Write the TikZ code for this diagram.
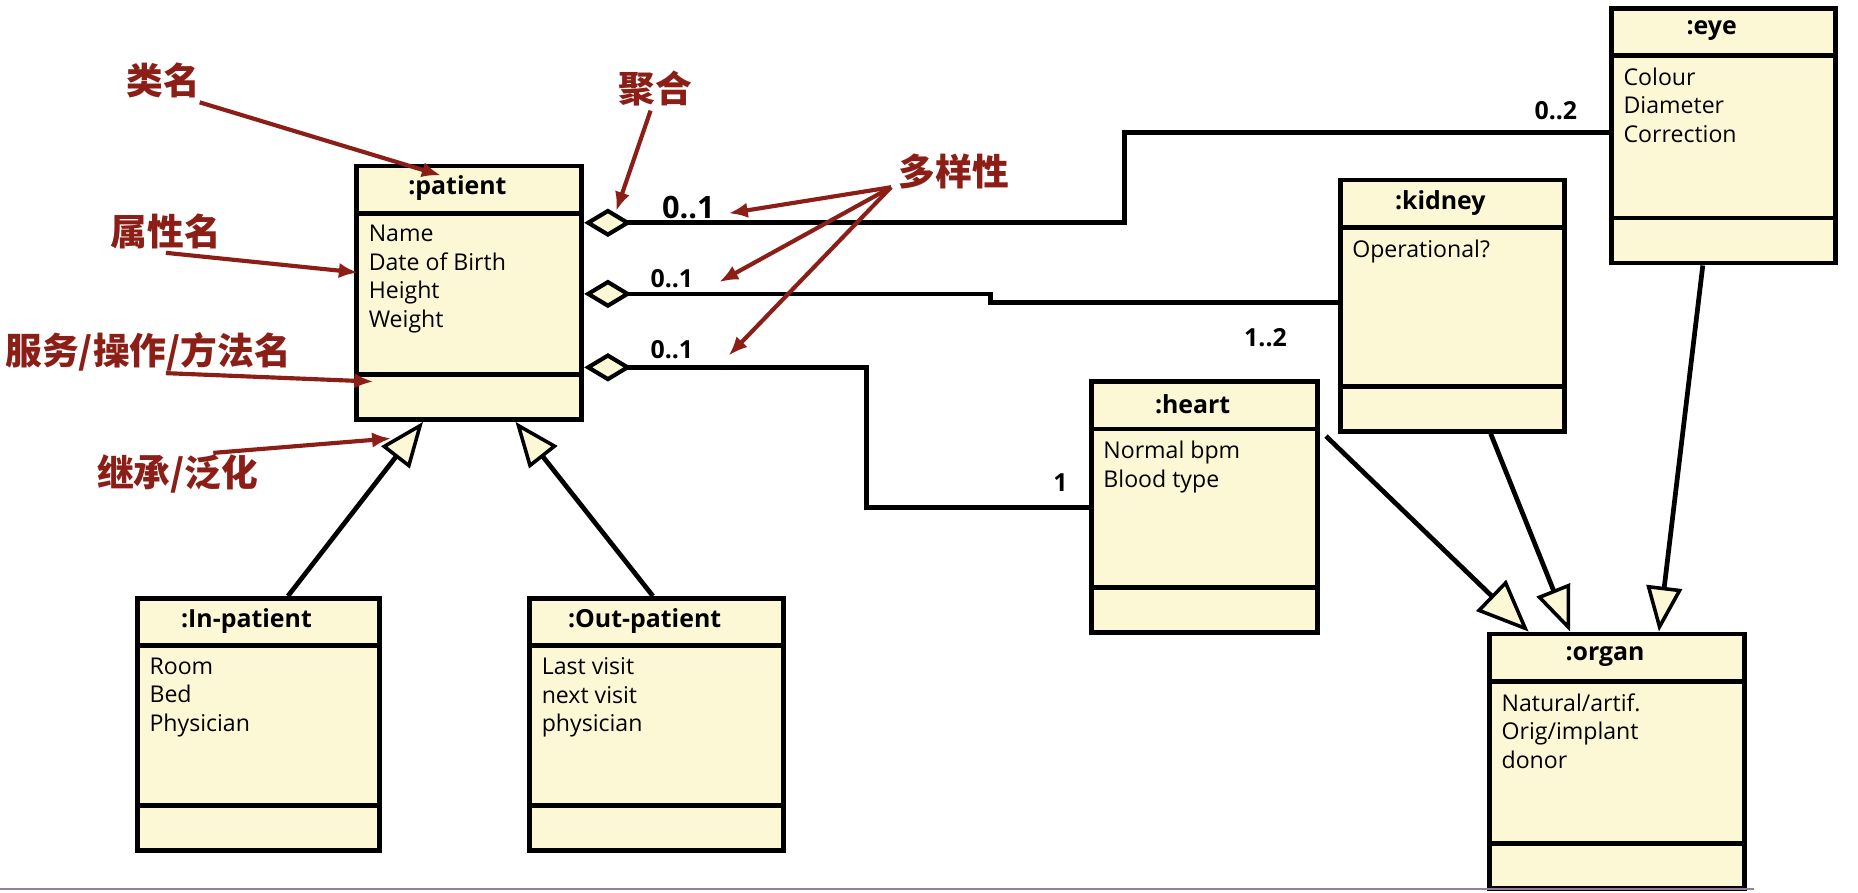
\documentclass[tikz,border=0pt]{standalone}
\usepackage{fontspec}
\setmainfont{Open Sans}
\newfontfamily\cjk{Noto Sans CJK SC}
\usetikzlibrary{arrows.meta,calc,positioning}

\definecolor{classfill}{RGB}{252,248,214}
\definecolor{notered}{RGB}{139,30,22}
\definecolor{slideline}{RGB}{150,125,160}

\tikzset{
  classbox/.style={draw, line width=4pt, fill=classfill, inner sep=0pt, anchor=north west},
  classline/.style={line width=4pt},
  classtitle/.style={font=\fontsize{21}{24}\selectfont\bfseries},
  classattr/.style={font=\fontsize{19.5}{24}\selectfont, align=left, anchor=north west, inner sep=0pt},
  agg/.style={line width=4pt, {Diamond[length=40pt,width=24pt,fill=classfill,line width=3.5pt]}-},
  gen/.style={line width=4pt, -{Triangle[length=38pt,width=30pt,fill=classfill,line width=3pt]}},
  biggen/.style={line width=4pt, -{Triangle[length=44pt,width=36pt,fill=classfill,line width=3pt]}},
  mult/.style={font=\fontsize{21}{24}\selectfont\bfseries},
  note/.style={font=\cjk\bfseries\fontsize{31}{34}\selectfont, text=notered},
  notearrow/.style={notered, line width=3.5pt, -{Latex[length=16pt,width=13pt]}}
}

% class box: name, left, top, width, height, title, attributes
\newcommand{\umlclass}[7]{%
  \node[classbox, minimum width=#4pt, minimum height=#5pt] (#1) at (#2,#3) {};
  \draw[classline] ($(#1.north west)+(0,42)$) -- ($(#1.north east)+(0,42)$);
  \draw[classline] ($(#1.south west)+(0,-40)$) -- ($(#1.south east)+(0,-40)$);
  \node[classtitle] (#1-title) at ($(#1.north)+(-10,21)$) {#6};
  \node[classattr] (#1-attr) at ($(#1.north west)+(12,52)$) {#7};
}

\begin{document}
\begin{tikzpicture}[x=1pt, y=-1pt]
    \useasboundingbox (0,0) rectangle (1568,753);

    % Classes
    \umlclass{patient}{299}{138}{190}{214}{:patient}{Name\\Date of Birth\\Height\\Weight}
    \umlclass{inpatient}{114}{503}{204}{213}{:In-patient}{Room\\Bed\\Physician}
    \umlclass{outpatient}{445}{503}{214}{213}{:Out-patient}{Last visit\\next visit\\physician}
    \umlclass{heart}{919}{320}{191}{212}{:heart}{Normal bpm\\Blood type}
    \umlclass{kidney}{1129}{150}{189}{212}{:kidney}{Operational?}
    \umlclass{eye}{1358}{5}{189}{215}{:eye}{Colour\\Diameter\\Correction}
    \umlclass{organ}{1255}{533}{215}{215}{:organ}{Natural/artif.\\Orig/implant\\donor}

    % Aggregations from patient
    \draw[agg] ($(patient.north east)+(0,50)$) -- ++(456,0) |- ($(eye.north west)+(0,107)$);
    \draw[agg] ($(patient.north east)+(0,110)$) -- ++(343,0) -- ++(0,7) -- ($(kidney.north west)+(0,105)$);
    \draw[agg] ($(patient.north east)+(0,172)$) -- ++(238,0) |- ($(heart.north west)+(0,108)$);

    % Multiplicities
    \node[mult, font=\fontsize{26}{28}\selectfont\bfseries] (m1) at (581,175) {0..1};
    \node[mult] (m2) at (567,235) {0..1};
    \node[mult] (m3) at (567,295) {0..1};
    \node[mult] (m4) at (1313,93) {0..2};
    \node[mult] (m5) at (1068,285) {1..2};
    \node[mult] (m6) at (895,407) {1};

    % Generalizations
    \draw[gen] ($(inpatient.north west)+(129,0)$) -- ($(patient.south west)+(58,0)$);
    \draw[gen] ($(outpatient.north west)+(106,0)$) -- ($(patient.south west)+(136,0)$);
    \draw[biggen] ($(heart.north east)+(5,48)$) -- ($(organ.north west)+(35,0)$);
    \draw[gen] ($(kidney.south west)+(129,0)$) -- ($(organ.north west)+(70,0)$);
    \draw[gen] ($(eye.south west)+(79,0)$) -- ($(organ.north west)+(145,0)$);

    % Notes
    \node[note] (classname) at (138,68) {类名};
    \node[note] (agglabel) at (553,75) {聚合};
    \node[note] (attrname) at (140,195) {属性名};
    \node[note] (multlabel) at (805,145) {多样性};
    \node[note] (opname) at (125,297) {服务/操作/方法名};
    \node[note] (genlabel) at (150,400) {继承/泛化};

    \coordinate (classtip) at (372,148);
    \coordinate (aggtip) at (520,178);
    \coordinate (attrtip) at (302,230);
    \coordinate (multsrc) at (752,158);
    \coordinate (multtipA) at (615,180);
    \coordinate (multtipB) at (607,238);
    \coordinate (multtipC) at (615,300);
    \coordinate (optip) at (315,322);
    \coordinate (gentip) at (330,370);

    \draw[notearrow] ($(classname.south east)+(-4,0)$) -- (classtip);
    \draw[notearrow] ($(agglabel.south)+(-4,0)$) -- (aggtip);
    \draw[notearrow] (attrname.south) -- (attrtip);
    \draw[notearrow] (multsrc) -- (multtipA);
    \draw[notearrow] (multsrc) -- (multtipB);
    \draw[notearrow] (multsrc) -- (multtipC);
    \draw[notearrow] ($(opname.south)+(15,-2)$) -- (optip);
    \draw[notearrow] ($(genlabel.north)+(30,2)$) -- (gentip);

    % slide border
    \draw[slideline, line width=1.5pt] (0,750) -- (1480,750);
\end{tikzpicture}
\end{document}
